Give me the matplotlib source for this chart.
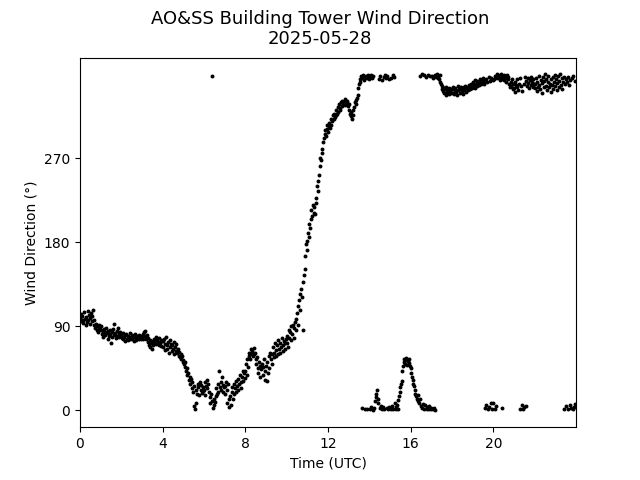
import numpy as np
import matplotlib
matplotlib.use("Agg")
import matplotlib.pyplot as plt

# one reading every 2 minutes, one row per hour (30 readings)
wind_dir_by_hour = [
    [99, 103, 96, 101, 94, 97, 105, 98, 92, 100, 95, 106, 97, 102, 93,
     99, 104, 96, 101, 108, 97, 91, 88, 93, 86, 90, 84, 91, 87, 89],
    [86, 90, 82, 85, 79, 87, 84, 81, 88, 83, 76, 85, 80, 86, 82,
     72, 84, 79, 87, 81, 93, 83, 78, 85, 80, 88, 82, 79, 84, 81],
    [80, 78, 83, 76, 79, 81, 74, 82, 77, 80, 75, 79, 83, 77, 78,
     81, 76, 80, 74, 79, 82, 77, 75, 80, 78, 76, 81, 79, 77, 80],
    [79, 82, 76, 84, 80, 85, 77, 81, 78, 73, 70, 75, 68, 72, 66,
     74, 70, 77, 72, 74, 79, 71, 76, 73, 70, 78, 72, 75, 69, 74],
    [74, 68, 77, 71, 65, 79, 70, 66, 73, 62, 75, 68, 71, 64, 70,
     66, 73, 60, 68, 64, 71, 62, 66, 58, 63, 57, 60, 55, 58, 52],
    [54, 50, 46, 52, 42, 45, 38, 40, 33, 36, 28, 34, 24, 30, 20,
     26, 5, 2, 22, 8, 18, 28, 25, 17, 30, 22, 27, 19, 25, 21],
    [22, 30, 17, 26, 33, 24, 28, 20, 14, 8, 18, 10, 358, 3, 12,
     6, 9, 15, 24, 18, 28, 20, 42, 25, 30, 22, 36, 27, 20, 25],
    [26, 18, 30, 8, 22, 28, 4, 12, 15, 6, 25, 20, 12, 28, 18,
     24, 20, 32, 26, 22, 34, 28, 38, 30, 24, 36, 42, 32, 40, 35],
    [42, 50, 38, 55, 46, 58, 62, 55, 66, 60, 64, 58, 67, 60, 62,
     55, 50, 57, 45, 40, 52, 48, 36, 44, 50, 38, 47, 55, 42, 33],
    [48, 32, 52, 40, 58, 45, 62, 55, 50, 60, 68, 57, 62, 72, 58,
     65, 70, 60, 75, 66, 62, 72, 68, 78, 64, 70, 74, 66, 72, 76],
    [72, 80, 68, 86, 78, 84, 90, 75, 82, 92, 88, 78, 95, 86, 98,
     104, 92, 112, 118, 108, 125, 130, 122, 138, 86, 145, 152, 165, 178, 172],
    [182, 190, 186, 200, 195, 215, 205, 208, 220, 212, 218, 210, 228, 222, 240,
     235, 246, 252, 262, 270, 268, 280, 276, 288, 292, 296, 300, 294, 306, 302],
    [298, 305, 308, 303, 312, 306, 310, 316, 312, 318, 314, 322, 316, 318, 325,
     320, 328, 324, 322, 330, 326, 332, 328, 330, 334, 327, 332, 329, 331, 326],
    [328, 322, 318, 315, 320, 312, 316, 322, 325, 330, 333, 328, 335, 338, 345,
     350, 355, 352, 358, 356, 3, 359, 354, 357, 1, 358, 356, 2, 359, 355],
    [357, 2, 359, 4, 356, 0, 358, 3, 10, 14, 18, 22, 12, 8, 355,
     3, 358, 5, 1, 354, 4, 357, 2, 359, 356, 3, 358, 1, 355, 4],
    [3, 356, 1, 5, 359, 2, 357, 8, 4, 1, 6, 2, 11, 15, 20,
     25, 28, 32, 42, 48, 52, 55, 50, 56, 54, 49, 53, 55, 51, 48],
    [45, 40, 36, 33, 28, 26, 22, 18, 15, 12, 10, 16, 8, 358, 12,
     5, 360, 3, 7, 359, 2, 6, 357, 4, 1, 359, 5, 2, 358, 3],
    [1, 358, 2, 356, 3, 359, 0, 357, 360, 356, 358, 355, 359, 352, 350,
     348, 344, 342, 345, 340, 344, 338, 346, 341, 343, 339, 345, 342, 340, 344],
    [344, 340, 347, 339, 342, 345, 341, 338, 348, 343, 346, 340, 344, 347, 342,
     345, 339, 346, 343, 348, 341, 345, 347, 343, 349, 346, 344, 350, 347, 345],
    [347, 352, 349, 345, 354, 350, 348, 353, 351, 349, 355, 352, 350, 354, 351,
     356, 353, 350, 3, 355, 6, 352, 1, 357, 4, 353, 8, 356, 2, 354],
    [8, 355, 2, 358, 5, 360, 356, 359, 357, 354, 358, 360, 355, 3, 357,
     359, 354, 358, 356, 352, 359, 355, 357, 350, 346, 352, 348, 355, 344, 350],
    [345, 352, 341, 349, 355, 347, 343, 350, 356, 2, 348, 6, 342, 1, 350,
     4, 357, 353, 5, 348, 356, 351, 345, 354, 349, 357, 352, 346, 355, 350],
    [345, 350, 356, 342, 352, 347, 358, 349, 344, 354, 340, 351, 357, 346, 353,
     360, 348, 355, 343, 352, 358, 346, 350, 341, 355, 349, 357, 344, 352, 359],
    [348, 355, 343, 351, 358, 346, 353, 360, 349, 356, 344, 352, 2, 357, 350,
     355, 5, 352, 1, 357, 349, 6, 354, 3, 356, 1, 358, 4, 353, 7],
]
step_minutes = 2
x_ticks = [0, 4, 8, 12, 16, 20]
y_ticks = [0, 90, 180, 270]


def main():
    hours = []
    directions = []
    for hr, row in enumerate(wind_dir_by_hour):
        for i, value in enumerate(row):
            hours.append(hr + i * step_minutes / 60)
            directions.append(value)

    fig, ax = plt.subplots(figsize=(6.4, 4.8), dpi=100)
    ax.scatter(hours, directions, s=8, c="k", linewidths=0)

    ax.set_xlim(0, 24)
    ax.set_ylim(-18, 378)
    ax.set_xticks(x_ticks)
    ax.set_yticks(y_ticks)
    ax.set_xlabel("Time (UTC)")
    ax.set_ylabel("Wind Direction (°)")
    fig.suptitle("AO&SS Building Tower Wind Direction\n2025-05-28", fontsize=13)

    fig.savefig("out.png", dpi=100)


if __name__ == "__main__":
    main()
